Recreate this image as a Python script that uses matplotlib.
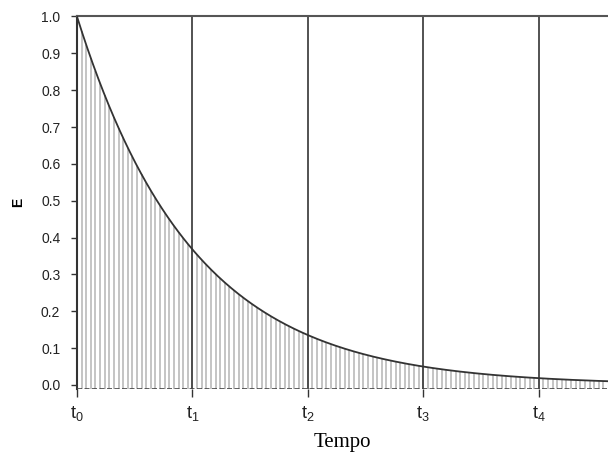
import matplotlib.pyplot as plt
import numpy as np

plt.rcParams["font.family"] = ["Liberation Sans", "DejaVu Sans"]
plt.rcParams["mathtext.fontset"] = "custom"
plt.rcParams["mathtext.rm"] = "Liberation Sans"
plt.rcParams["mathtext.it"] = "Liberation Sans"

# time marks (in units of the decay constant) and their labels
t_marks = [0, 1, 2, 3, 4]
t_labels = [r"$\mathregular{t_0}$", r"$\mathregular{t_1}$", r"$\mathregular{t_2}$",
            r"$\mathregular{t_3}$", r"$\mathregular{t_4}$"]
y_ticks = [0.0, 0.1, 0.2, 0.3, 0.4, 0.5, 0.6, 0.7, 0.8, 0.9, 1.0]

tau = 1.0          # decay constant: E(t1) ~ 0.37
t_end = 4.6
hatch_step = 0.04
y_bottom = -0.011

t = np.linspace(0, t_end, 400)
E = np.exp(-t / tau)
t_hatch = np.arange(0, t_end, hatch_step)
E_hatch = np.exp(-t_hatch / tau)

fig = plt.figure(figsize=(6.08, 4.58), dpi=100)
ax = fig.add_axes([0.1266, 0.1507, 0.8734, 0.8133])

ax.vlines(t_hatch, y_bottom, E_hatch, color="#b4b4b4", lw=1.1, zorder=1)
ax.plot(t, E, color="#333333", lw=1.3, zorder=3)
ax.vlines(t_marks[1:], y_bottom, 1.0, color="#444444", lw=1.3, zorder=2)
ax.axhline(y_bottom, color="#444444", lw=1.2, ls=(0, (3, 1.5)), zorder=4)

ax.set_xlim(0, t_end)
ax.set_ylim(y_bottom, 1.0)

for side in ["right", "bottom"]:
    ax.spines[side].set_visible(False)
ax.spines["left"].set_color("#333333")
ax.spines["left"].set_linewidth(1.5)
ax.spines["top"].set_color("#555555")
ax.spines["top"].set_linewidth(1.5)

ax.set_yticks(y_ticks)
ax.set_yticklabels([f"{v:.1f}" for v in y_ticks], fontsize=10, color="#222222")
ax.set_xticks(t_marks)
ax.set_xticklabels(t_labels, fontsize=13, color="#222222")
ax.tick_params(axis="y", length=4, width=1, color="#333333", pad=8)
ax.tick_params(axis="x", length=6, width=1, color="#333333", pad=5)

ax.set_ylabel("E", fontsize=10, fontweight="bold")
ax.yaxis.set_label_coords(-0.098, 0.5)
ax.set_xlabel("Tempo", fontsize=15, family="Liberation Serif")
ax.xaxis.set_label_coords(0.5, -0.118)

fig.savefig("out.png", dpi=100)
